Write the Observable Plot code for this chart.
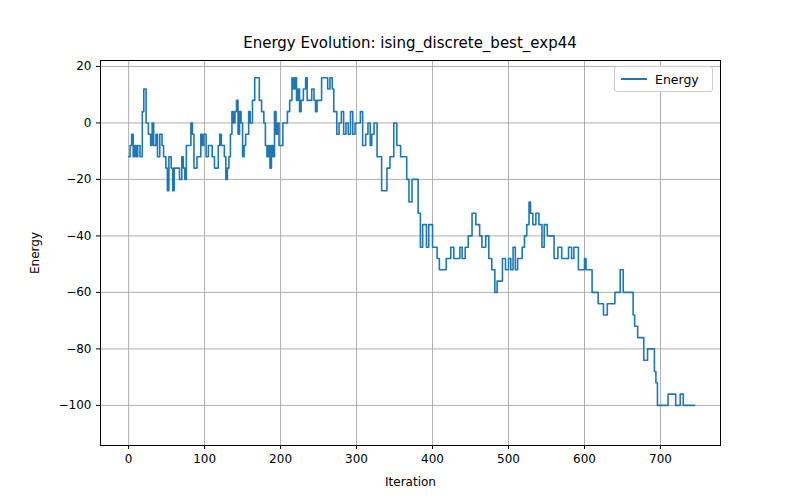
<!DOCTYPE html>
<html><head><meta charset="utf-8">
<script src="https://cdn.jsdelivr.net/npm/d3@7"></script>
<script src="https://cdn.jsdelivr.net/npm/@observablehq/plot@0.6"></script>
<style>
body{margin:0;background:#fff;font-family:"DejaVu Sans",sans-serif}
#wrap{position:relative;width:800px;height:500px}
#title{height:50px;line-height:86px;text-align:center;font-size:15px;padding-left:20px;color:#000}
#legend{position:absolute;left:614px;top:66px;width:97px;height:24px;border:1px solid #ccc;border-radius:3px;background:#fff;font-size:12.5px;display:flex;align-items:center}
#legend span.l{display:inline-block;width:26px;height:2px;background:#1f77b4;margin:0 8px 0 6px}
</style></head><body>
<div id="wrap"><div id="title">Energy Evolution: ising_discrete_best_exp44</div><div id="chart"></div>
<div id="legend"><span class="l"></span>Energy</div></div>
<script>
const iterations = [0,2,4,6,8,10,12,15,18,20,23,26,29,31,33,36,38,41,44,46,49,51,53,56,58,60,64,67,70,72,74,76,80,82,84,86,88,90,92,95,97,99,102,105,108,110,113,116,118,120,122,124,126,128,130,132,134,136,138,140,142,144,146,148,150,152,154,156,158,160,163,166,170,172,175,178,180,182,184,186,188,190,192,194,196,198,200,203,206,209,212,215,217,219,221,223,225,227,230,233,235,238,241,244,246,248,251,254,258,262,265,268,270,274,277,280,283,286,289,292,295,298,302,305,308,312,315,318,320,323,327,333,336,340,344,349,353,358,362,366,369,373,378,381,384,387,392,395,400,406,409,413,418,424,428,432,436,439,443,447,452,457,462,465,470,474,478,482,485,488,492,496,500,503,506,509,512,515,518,521,524,527,529,532,536,540,544,547,551,555,560,565,570,575,579,583,586,588,592,597,600,602,610,618,625,630,633,635,640,645,647,651,655,660,664,666,670,674,678,683,688,692,694,696,700,710,715,720,726,730,745];
const energy = [-12,-8,-4,-12,-8,-12,-8,-12,4,12,0,-4,-8,0,-8,-4,-12,-4,-8,-12,-16,-24,-12,-16,-24,-16,-16,-20,-12,-16,-20,-8,-8,0,-4,-16,-16,-12,-12,-4,-8,-4,-12,-8,-8,-12,-16,-16,-8,-4,-8,-8,-12,-20,-16,-12,-4,4,0,4,8,-4,4,0,-12,-8,-4,-4,4,0,8,16,16,8,4,0,-8,-12,-8,-16,-8,-12,4,-4,0,-8,-8,0,0,4,8,16,12,16,8,12,4,8,12,16,8,8,12,8,4,8,8,16,16,12,16,12,4,-4,0,4,-4,0,-4,4,-4,0,0,4,-8,-4,0,-8,-4,0,-12,-24,-24,-16,-12,0,-8,-12,-12,-20,-28,-20,-20,-32,-44,-36,-44,-36,-44,-48,-52,-52,-48,-44,-48,-48,-44,-48,-44,-40,-32,-36,-40,-44,-40,-48,-52,-60,-56,-56,-48,-52,-48,-52,-44,-52,-48,-48,-44,-40,-36,-28,-32,-36,-32,-36,-44,-36,-40,-40,-48,-44,-48,-48,-44,-48,-44,-44,-52,-52,-48,-52,-60,-64,-68,-64,-64,-64,-60,-60,-52,-60,-60,-60,-68,-72,-76,-76,-84,-80,-80,-88,-92,-100,-100,-96,-96,-100,-96,-100,-100,-104,-104,-104,-108,-104,-104,-104];
const xTicks = [0,100,200,300,400,500,600,700];
const yTicks = [20,0,-20,-40,-60,-80,-100];
const data = iterations.map((d,i) => ({iteration:d, energy:energy[i]}));

const chart = Plot.plot({
  width: 800, height: 450,
  marginTop: 10, marginBottom: 55, marginLeft: 100, marginRight: 80,
  style: {fontSize: 12, fontFamily: "DejaVu Sans", color: "#000", background: "#fff"},
  x: {domain: [-37, 779], ticks: xTicks, label: "Iteration", labelAnchor: "center", labelOffset: 40},
  y: {domain: [-114.2, 22.1], ticks: yTicks, label: "Energy", labelAnchor: "center", labelOffset: 70},
  marks: [
    Plot.gridX(xTicks, {stroke: "#b0b0b0", strokeOpacity: 1}),
    Plot.gridY(yTicks, {stroke: "#b0b0b0", strokeOpacity: 1}),
    Plot.axisX({ticks: xTicks, tickSize: 4, fontSize: 12, label: "Iteration", labelAnchor: "center", labelArrow: "none", labelOffset: 40}),
    Plot.axisY({ticks: yTicks, tickSize: 4, fontSize: 12, label: "Energy", labelAnchor: "center", labelArrow: "none", labelOffset: 70}),
    Plot.line(data, {x: "iteration", y: "energy", curve: "step-after", stroke: "#1f77b4", strokeWidth: 1.6}),
    Plot.frame({stroke: "#000"})
  ]
});
d3.select("#chart").append(() => chart);
</script></body></html>
